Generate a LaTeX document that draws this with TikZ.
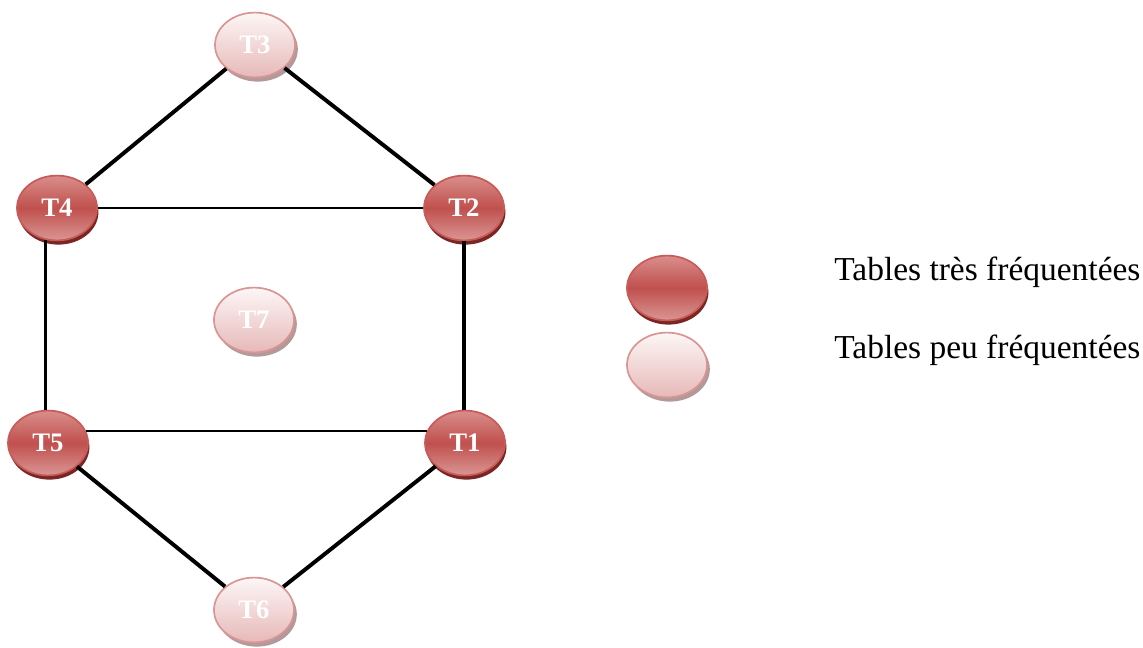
\documentclass[tikz,border=0pt]{standalone}
\usepackage{fontspec}
\setmainfont{Liberation Serif}
\usetikzlibrary{shapes.geometric}
\definecolor{hotmid}{HTML}{C0504D}
\definecolor{hottop}{HTML}{D98E8C}
\definecolor{hotbot}{HTML}{D99694}
\definecolor{hotborder}{HTML}{C85A57}
\definecolor{hotshadow}{HTML}{7A2624}
\definecolor{coldtop}{HTML}{FDF6F6}
\definecolor{coldbot}{HTML}{E6B9B8}
\definecolor{coldborder}{HTML}{D99594}
\definecolor{coldshadow}{HTML}{B39A9A}
\tikzset{
  tabnode/.style={ellipse, minimum width=2cm, minimum height=1.62cm, inner sep=0pt,
    line width=1.2pt, text=white, font=\bfseries\fontsize{19}{21}\selectfont},
  hot/.style={tabnode, draw=hotborder, top color=hottop, bottom color=hotbot, middle color=hotmid,
    preaction={fill=hotshadow, transform canvas={xshift=1pt,yshift=-3pt}}},
  cold/.style={tabnode, draw=coldborder, top color=coldtop, bottom color=coldbot,
    preaction={fill=coldshadow, transform canvas={xshift=2pt,yshift=-3pt}}},
  thickedge/.style={line width=2.8pt, black},
  midedge/.style={line width=2.2pt, black},
  thinedge/.style={line width=1.6pt, black},
  legtext/.style={anchor=west, inner sep=0pt, font=\fontsize{23.8}{26}\selectfont}
}
\begin{document}
\begin{tikzpicture}[x=0.025cm,y=-0.025cm]
\useasboundingbox (0,0) rectangle (1143,648);
\path
  (255,45) coordinate (p3)
  (57,208) coordinate (p4)
  (464,208) coordinate (p2)
  (254,320) coordinate (p7)
  (48,443) coordinate (p5)
  (465,443) coordinate (p1)
  (254,610) coordinate (p6);
\node[cold] (T3) at (p3) {T3};
\node[hot]  (T4) at (p4) {T4};
\node[hot]  (T2) at (p2) {T2};
\node[cold] (T7) at (p7) {T7};
\node[hot]  (T5) at (p5) {T5};
\node[hot]  (T1) at (p1) {T1};
\node[cold] (T6) at (p6) {T6};
\draw[thickedge] (T3) -- (T4);
\draw[thickedge] (T3) -- (T2);
\draw[thinedge] (T4) -- (T2);
\draw[midedge] (T4.-110) -- (T4.-110 |- T5.north);
\draw[midedge] (T2.south) -- (T2.south |- T1.north);
\draw[thinedge] (T5.17) -- (T1.163);
\draw[thickedge] (T5) -- (T6);
\draw[thickedge] (T1) -- (T6);
% legend
\node[hot]  (legdark)  at (667,288) {};
\node[cold] (leglight) at (667,365) {};
\node[legtext] (legdarktext)  at (834,272) {Tables très fréquentées};
\node[legtext] (leglighttext) at (834,350) {Tables peu fréquentées};
\end{tikzpicture}
\end{document}
